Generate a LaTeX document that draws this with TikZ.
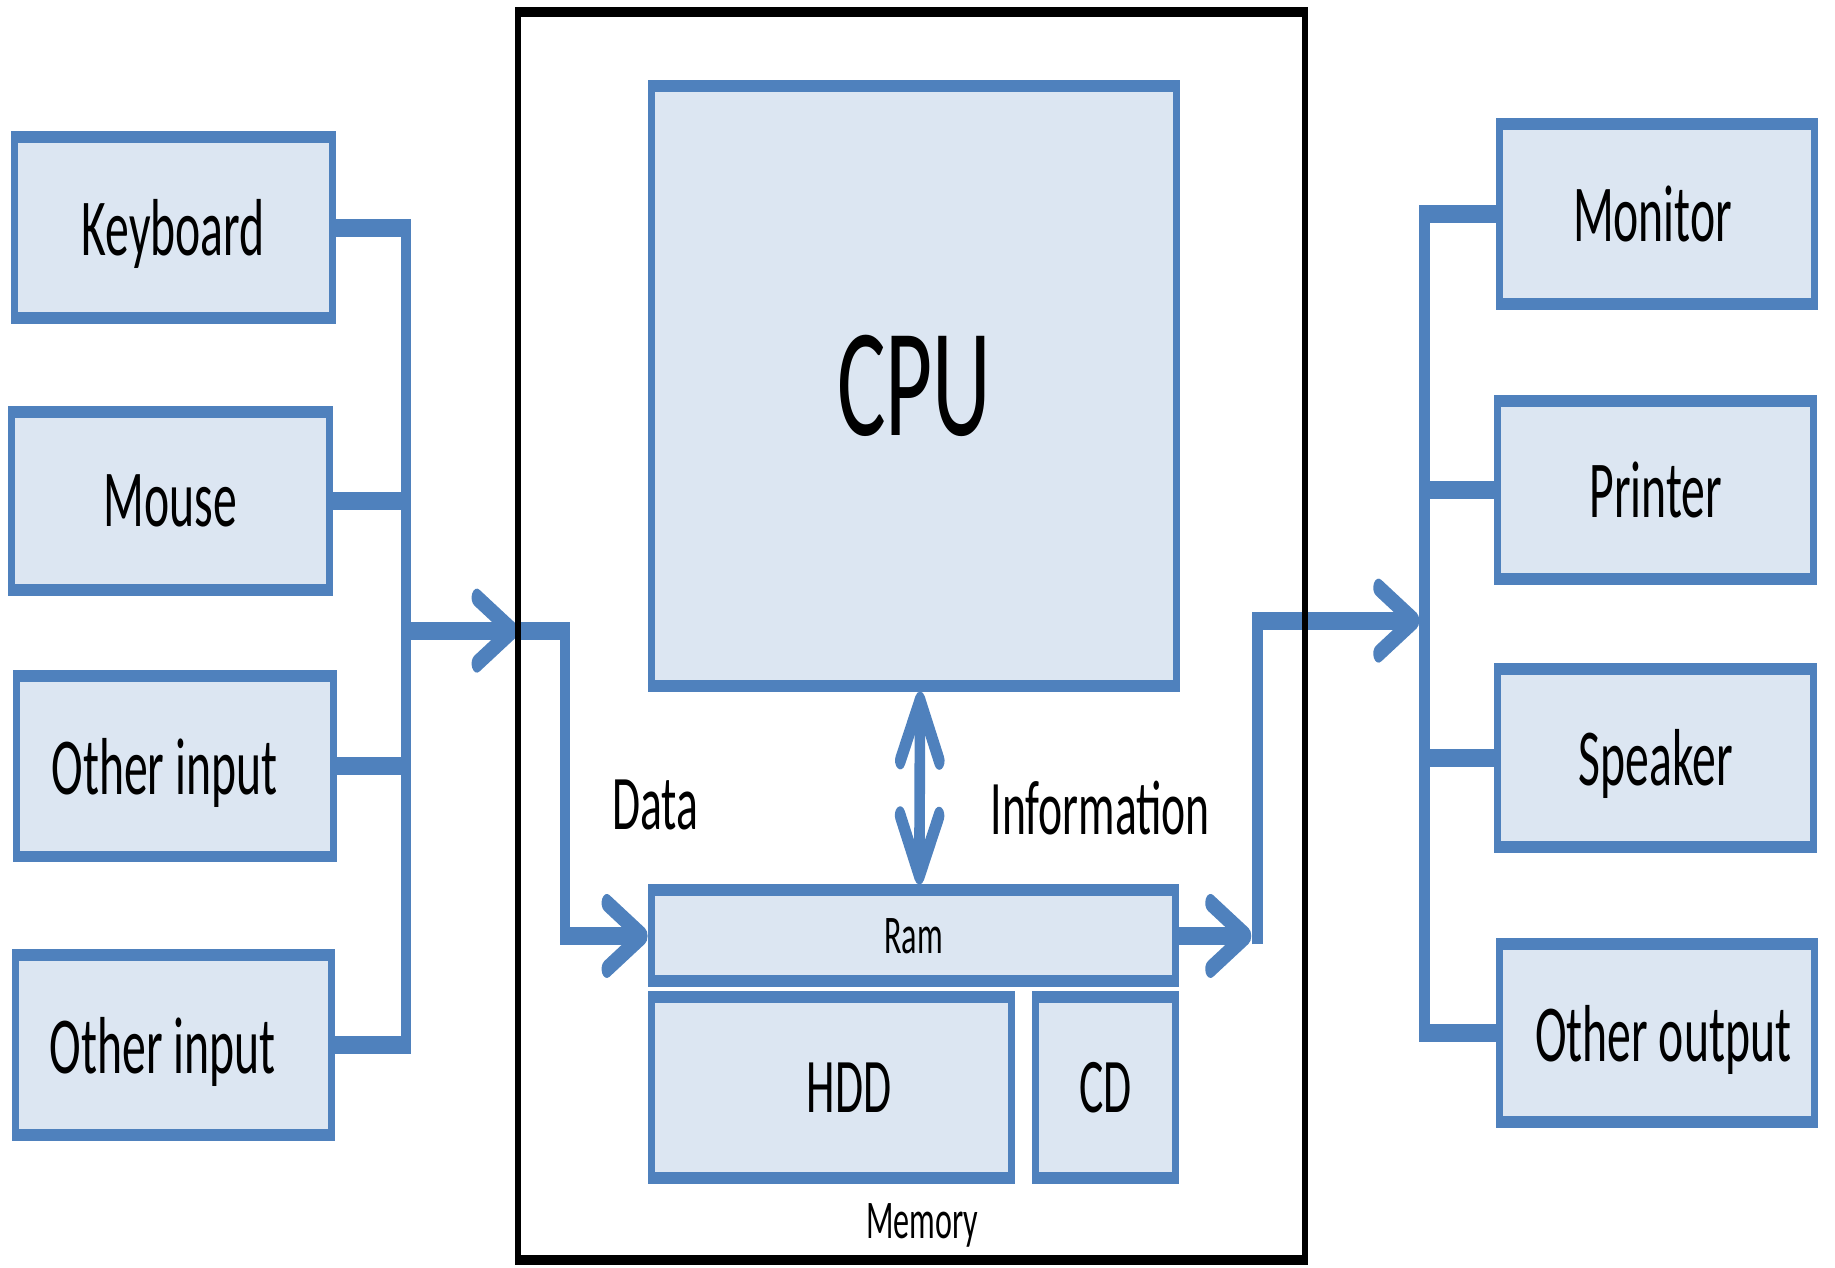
\documentclass[tikz,border=0pt]{standalone}
\usepackage{fontspec}
\setmainfont{Carlito}
\usetikzlibrary{arrows.meta,fit}
\definecolor{unitblue}{RGB}{79,129,189}
\definecolor{unitfill}{RGB}{220,230,242}
\tikzset{
  unit/.style={draw=unitblue, fill=unitfill, line width=0.12cm, inner sep=0pt},
  unittext/.style={inner sep=0pt, text depth=0pt, font=\fontsize{23}{27}\selectfont},
  tag/.style={inner sep=0pt, text depth=0pt, font=\fontsize{22}{26}\selectfont},
  smalltag/.style={inner sep=0pt, text depth=0pt, font=\fontsize{15.5}{18}\selectfont},
  link/.style={draw=unitblue, line width=0.18cm, line join=miter},
  barb/.style={-{Straight Barb[length=0.6cm, width=0.66cm, round]}},
  barbs/.style={{Straight Barb[length=0.6cm, width=0.66cm, round]}-{Straight Barb[length=0.6cm, width=0.66cm, round]}},
}
\begin{document}
\begin{tikzpicture}
  \useasboundingbox (0cm,0cm) rectangle (18.35cm,-12.68cm);
  \begin{scope}[x=0.016949cm, y=-0.01cm, transform canvas={xscale=0.59}]
    % input side
    \node[unit, fit={(14.5,137) (332,318.5)}, label={[unittext]center:Keyboard}] (kb) {};
    \node[unit, fit={(11.5,412) (329.5,590)}, label={[unittext]center:Mouse}] (ms) {};
    \node[unit, fit={(16.5,676) (333.5,857)}, label={[unittext, xshift=-0.18cm]center:Other input}] (oia) {};
    \node[unit, fit={(15.5,956) (331.5,1136)}, label={[unittext, xshift=-0.18cm]center:Other input}] (oib) {};
    % computer
    \node[unit, fit={(651.5,86) (1176.5,686)}, label={[unittext, font=\fontsize{44}{50}\selectfont]center:CPU}] (cpu) {};
    \node[unit, fit={(651,891) (1175.5,982)}, label={[smalltag]center:Ram}] (ram) {};
    \node[unit, fit={(651,998) (1011,1179)}, label={[tag, xshift=0.3cm]center:HDD}] (hdd) {};
    \node[unit, fit={(1035,998) (1175.5,1179)}, label={[tag]center:CD}] (cd) {};
    \node[tag] (data) at (655,805) {Data};
    \node[tag] (info) at (1100,808) {Information};
    \node[smalltag] (mem) at (922,1222) {Memory};
    % output side
    \node[unit, fit={(1499.5,124) (1814.5,304)}, label={[unittext, xshift=-0.08cm]center:Monitor}] (mon) {};
    \node[unit, fit={(1497.5,401) (1813.5,579)}, label={[unittext]center:Printer}] (prn) {};
    \node[unit, fit={(1497.5,669) (1813.5,847)}, label={[unittext]center:Speaker}] (spk) {};
    \node[unit, fit={(1499.5,945) (1814.5,1123)}, label={[unittext, xshift=0.1cm]center:Other output}] (oout) {};

    \coordinate (inbus) at (406,631);
    \coordinate (infr) at (517.5,631);
    \coordinate (injoint) at (565,631);
    \coordinate (outtip) at (1251,945);
    \coordinate (outjoint) at (1257,945);
    \coordinate (outbus) at (1424,621);
    \coordinate (outin) at (1419,621);

    \draw[link] (kb.east) -- (kb.east -| inbus) -- (oib.east -| inbus) -- (oib.east);
    \draw[link] (ms.east) -- (ms.east -| inbus);
    \draw[link] (oia.east) -- (oia.east -| inbus);
    \draw[link, barb] (inbus) -- (infr);
    \draw[link, barb] (infr) -- (injoint) |- (ram.west);
    \draw[link, barbs] ([xshift=0.1cm]cpu.south) -- ([xshift=0.1cm]ram.north);
    \draw[link, barb] (ram.east) -- (ram.east -| outtip);
    \draw[link, barb] (outjoint) |- (outin);
    \draw[link] (mon.west) -- (mon.west -| outbus) -- (oout.west -| outbus) -- (oout.west);
    \draw[link] (prn.west) -- (prn.west -| outbus);
    \draw[link] (spk.west) -- (spk.west -| outbus);

    % frame round the computer
    \node[draw, line width=0.1cm, inner sep=0pt, fit={(517.5,12) (1304.5,1261)}] (frame) {};
  \end{scope}
\end{tikzpicture}
\end{document}
